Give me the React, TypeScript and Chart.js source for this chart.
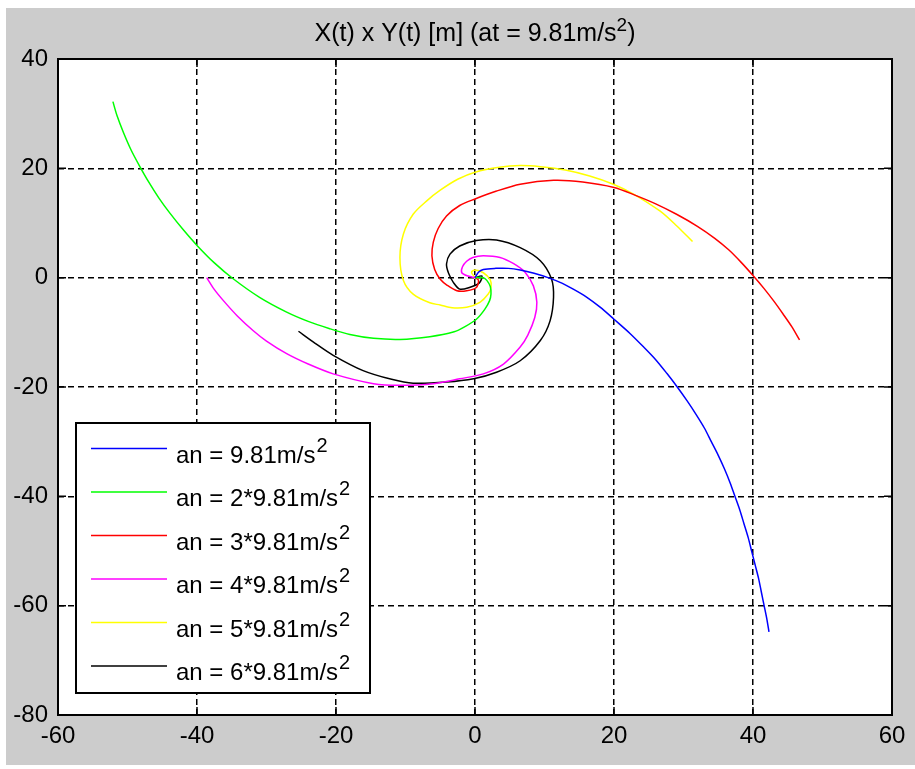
import React, { useEffect, useRef } from "react";
import { Chart, registerables } from "chart.js";

Chart.register(...registerables);

const X_MIN = -60;
const X_MAX = 60;
const Y_MIN = -80;
const Y_MAX = 40;
const X_TICKS = [-60, -40, -20, 0, 20, 40, 60];
const Y_TICKS = [-80, -60, -40, -20, 0, 20, 40];

const TITLE_MAIN = "X(t) x Y(t) [m] (at = 9.81m/s";
const TITLE_SUP = "2";
const TITLE_END = ")";

const SERIES_LABELS = [
  "an = 9.81m/s",
  "an = 2*9.81m/s",
  "an = 3*9.81m/s",
  "an = 4*9.81m/s",
  "an = 5*9.81m/s",
  "an = 6*9.81m/s",
];
const LABEL_SUP = "2";
const SERIES_COLORS = ["#0000ff", "#00ff00", "#ff0000", "#ff00ff", "#ffff00", "#000000"];

const curveAn1: [number, number][] = [
  [0, 0], [0.5, 1.0], [1.2, 1.5], [3, 1.7], [4.8, 1.7], [6.5, 1.4], [8.5, 0.8], [10.5, 0],
  [12.5, -1], [14, -2], [16, -3.5], [18, -5.4], [20, -7.6], [22.3, -10.2], [24.2, -12.6],
  [26, -15], [27.6, -17.5], [29.1, -20], [30.5, -22.5], [31.8, -25], [33, -27.5], [34, -30],
  [35, -32.5], [35.9, -35], [36.7, -37.5], [37.4, -40], [38.1, -42.5], [38.7, -45],
  [39.3, -47.5], [39.8, -50], [40.3, -52.5], [40.8, -55], [41.2, -57.5], [41.6, -60],
  [42, -62.5], [42.3, -64.8],
];

const curveAn2: [number, number][] = [
  [0, 0], [1.2, 0], [1.7, -0.5], [2.2, -1.6], [2.3, -3], [2.1, -4.2], [1.4, -5.8], [0.2, -7.6],
  [-1.5, -9], [-3, -9.9], [-6.5, -10.8], [-10.8, -11.3], [-14.6, -11.1], [-18, -10.4],
  [-21, -9.3], [-24, -8], [-27.1, -6.3], [-31, -3.6], [-34.8, -0.2], [-37.5, 2.7], [-40, 5.9],
  [-42, 8.8], [-43.9, 11.8], [-45.5, 14.6], [-47, 17.6], [-48.3, 20.5], [-49.5, 23.4],
  [-50.6, 26.6], [-51.5, 29.6], [-52.1, 32.2],
];

const curveAn3: [number, number][] = [
  [0, 0], [0.5, -0.5], [0.2, -1.8], [-1.2, -2.4], [-2.6, -2.4], [-4, -1.4], [-5, -0.3],
  [-5.8, 1.5], [-6.2, 4], [-6, 6.5], [-5.3, 9], [-4.1, 11.3], [-2.2, 13.2], [0, 14.4],
  [3, 15.8], [6.5, 17.1], [11.3, 17.8], [15.5, 17.5], [20, 16.5], [23, 15.1], [26, 13.5],
  [29, 11.6], [32, 9.4], [34.5, 7.2], [36.5, 5.1], [38.3, 2.8], [40, 0.4], [41.6, -2],
  [43, -4.3], [44.3, -6.6], [45.6, -9], [46.7, -11.4],
];

const curveAn4: [number, number][] = [
  [0, 0], [-1, 0.3], [-1.9, 0.9], [-1.8, 2], [-1.2, 3], [-0.3, 3.7], [1.2, 4.0], [3.6, 3.7],
  [5.5, 2.6], [7.2, 1], [8.4, -1.5], [8.9, -4.5], [8.6, -7.3], [7.6, -10.5], [6.5, -12.7],
  [4.1, -15.8], [1.2, -17.6], [-2.2, -18.5], [-6, -19.4], [-10.8, -19.7], [-14.6, -19.4],
  [-20.4, -17.6], [-24, -15.8], [-27.1, -13.9], [-30, -11.6], [-31.9, -9.7], [-34.2, -7],
  [-36.2, -4.2], [-37.6, -2], [-38.6, 0],
];

const curveAn5: [number, number][] = [
  [0, 0], [-0.5, 1], [0, 1.4], [1.2, 0.9], [2.2, -0.4], [2.3, -1.8], [1.9, -3.0], [0.7, -4.5],
  [-1.2, -5.4], [-3.3, -5.5], [-5, -5], [-6.5, -4.6], [-8.9, -3], [-10.3, -0.5], [-10.8, 3.7],
  [-10.3, 8], [-8.9, 11.6], [-6.9, 14.1], [-5, 16], [-2.5, 18], [0, 19.3], [3.5, 20.2],
  [6.5, 20.5], [9.4, 20.3], [13, 19.7], [16.5, 18.6], [19.9, 17.1], [22.8, 15.3], [26.6, 12.2],
  [29, 9.5], [31.3, 6.6],
];

const curveAn6: [number, number][] = [
  [0, 0], [1, 0.3], [0.6, -1], [-0.8, -1.8], [-2.2, -2.1], [-3.1, -0.9], [-3.8, 0.8],
  [-4.1, 2.5], [-3.6, 4.3], [-2.2, 5.8], [0.2, 6.8], [3.1, 6.9], [6.5, 5.5], [9.4, 3.1],
  [11, -0.2], [11.3, -3.6], [10.8, -7.9], [9.4, -11.5], [6.5, -15.2], [3.1, -17.3],
  [-0.2, -18.5], [-4.1, -19.1], [-8.9, -19.3], [-12, -18.6], [-16.1, -17], [-20.4, -14.2],
  [-23, -12], [-25.4, -9.8],
];

const CURVES = [curveAn1, curveAn2, curveAn3, curveAn4, curveAn5, curveAn6];

const FONT = "'Liberation Sans', Arial, Helvetica, sans-serif";

const backgroundPlugin = {
  id: "matlabBackground",
  beforeDraw(chart: any) {
    const { ctx, width, height, chartArea } = chart;
    ctx.save();
    ctx.fillStyle = "#ffffff";
    ctx.fillRect(0, 0, width, height);
    ctx.fillStyle = "#cccccc";
    ctx.fillRect(6, 8, width - 6, height - 12);
    ctx.fillStyle = "#ffffff";
    ctx.fillRect(chartArea.left, chartArea.top, chartArea.right - chartArea.left, chartArea.bottom - chartArea.top);
    ctx.restore();
  },
};

const framePlugin = {
  id: "matlabFrame",
  afterDatasetsDraw(chart: any) {
    const { ctx, chartArea, scales } = chart;
    const { left, right, top, bottom } = chartArea;
    const tickLen = 8;
    ctx.save();
    ctx.strokeStyle = "#000000";
    ctx.lineWidth = 1.5;
    ctx.setLineDash([]);
    ctx.beginPath();
    X_TICKS.forEach((v) => {
      const p = scales.x.getPixelForValue(v);
      ctx.moveTo(p, bottom);
      ctx.lineTo(p, bottom - tickLen);
      ctx.moveTo(p, top);
      ctx.lineTo(p, top + tickLen);
    });
    Y_TICKS.forEach((v) => {
      const p = scales.y.getPixelForValue(v);
      ctx.moveTo(left, p);
      ctx.lineTo(left + tickLen, p);
      ctx.moveTo(right, p);
      ctx.lineTo(right - tickLen, p);
    });
    ctx.stroke();
    ctx.lineWidth = 2;
    ctx.strokeRect(left, top, right - left, bottom - top);
    ctx.restore();
  },
};

const textPlugin = {
  id: "matlabText",
  afterDraw(chart: any) {
    const { ctx, chartArea } = chart;
    ctx.save();
    ctx.fillStyle = "#000000";
    ctx.textAlign = "left";
    ctx.textBaseline = "alphabetic";

    // Title
    const mainFont = `25px ${FONT}`;
    const supFont = `19px ${FONT}`;
    ctx.font = mainFont;
    const wMain = ctx.measureText(TITLE_MAIN).width;
    const wEnd = ctx.measureText(TITLE_END).width;
    ctx.font = supFont;
    const wSup = ctx.measureText(TITLE_SUP).width;
    const total = wMain + wSup + wEnd;
    const cx = (chartArea.left + chartArea.right) / 2;
    let tx = cx - total / 2;
    const tBase = 41;
    ctx.font = mainFont;
    ctx.fillText(TITLE_MAIN, tx, tBase);
    tx += wMain;
    ctx.font = supFont;
    ctx.fillText(TITLE_SUP, tx, tBase - 10);
    tx += wSup;
    ctx.font = mainFont;
    ctx.fillText(TITLE_END, tx, tBase);

    // Legend
    const bx = 76;
    const by = 423;
    const bw = 294;
    const bh = 270;
    ctx.fillStyle = "#ffffff";
    ctx.fillRect(bx, by, bw, bh);
    ctx.strokeStyle = "#000000";
    ctx.lineWidth = 2;
    ctx.strokeRect(bx, by, bw, bh);
    const rowStart = 448.5;
    const rowGap = 43.5;
    chart.data.datasets.forEach((ds: any, i: number) => {
      const y = rowStart + i * rowGap;
      ctx.strokeStyle = ds.borderColor;
      ctx.lineWidth = 1.5;
      ctx.beginPath();
      ctx.moveTo(91, y);
      ctx.lineTo(167, y);
      ctx.stroke();
      ctx.fillStyle = "#000000";
      ctx.font = `24px ${FONT}`;
      const base = y + 14;
      ctx.fillText(ds.label, 176, base);
      const w = ctx.measureText(ds.label).width;
      ctx.font = `20px ${FONT}`;
      ctx.fillText(LABEL_SUP, 176 + w + 1, base - 11);
    });
    ctx.restore();
  },
};

export default function App() {
  const canvasRef = useRef<HTMLCanvasElement | null>(null);

  useEffect(() => {
    const canvas = canvasRef.current;
    if (!canvas) return;
    const chart = new Chart(canvas, {
      type: "scatter",
      data: {
        datasets: CURVES.map((curve, i) => ({
          label: SERIES_LABELS[i],
          data: curve.map(([x, y]) => ({ x, y })),
          showLine: true,
          borderColor: SERIES_COLORS[i],
          backgroundColor: SERIES_COLORS[i],
          borderWidth: 1.5,
          pointRadius: 0,
          pointHoverRadius: 0,
          tension: 0.3,
          fill: false,
        })),
      },
      options: {
        animation: false,
        responsive: false,
        devicePixelRatio: 1,
        events: [],
        layout: { padding: { left: 8, top: 59, right: 23, bottom: 9 } },
        plugins: {
          legend: { display: false },
          title: { display: false },
          tooltip: { enabled: false },
        },
        scales: {
          x: {
            type: "linear",
            min: X_MIN,
            max: X_MAX,
            afterBuildTicks: (s: any) => {
              s.ticks = X_TICKS.map((v) => ({ value: v }));
            },
            afterFit: (s: any) => {
              s.height = 45;
            },
            ticks: {
              color: "#000000",
              font: { family: FONT, size: 24 },
              padding: 7,
              maxRotation: 0,
              autoSkip: false,
            },
            grid: { color: "#000000", lineWidth: 1.5, drawTicks: false },
            border: { display: false, dash: [6, 4] },
          },
          y: {
            type: "linear",
            min: Y_MIN,
            max: Y_MAX,
            afterBuildTicks: (s: any) => {
              s.ticks = Y_TICKS.map((v) => ({ value: v }));
            },
            afterFit: (s: any) => {
              s.width = 50;
            },
            ticks: {
              color: "#000000",
              font: { family: FONT, size: 24 },
              padding: 10,
              autoSkip: false,
            },
            grid: { color: "#000000", lineWidth: 1.5, drawTicks: false },
            border: { display: false, dash: [6, 4] },
          },
        },
      },
      plugins: [backgroundPlugin, framePlugin, textPlugin],
    });
    return () => chart.destroy();
  }, []);

  return (
    <div style={{ position: "fixed", left: 0, top: 0, width: 915, height: 769, background: "#ffffff" }}>
      <canvas ref={canvasRef} width={915} height={769} style={{ display: "block" }} />
    </div>
  );
}
